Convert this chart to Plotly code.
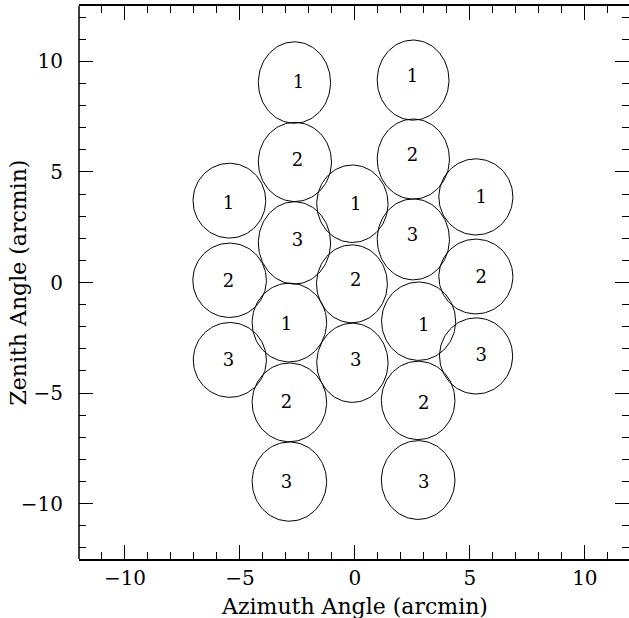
import numpy as np
import plotly.graph_objects as go

# Beam ellipses: centre (arcmin) and semi-axes (arcmin)
beam_cx = [-2.63, -2.61, -2.63, -2.85, -2.85, -2.85,
           2.53, 2.54, 2.54, 2.77, 2.75, 2.75,
           -5.46, -5.45, -5.44,
           -0.11, -0.13, -0.11,
           5.26, 5.26, 5.27]
beam_cy = [9.04, 5.45, 1.79, -1.81, -5.42, -9.00,
           9.15, 5.58, 1.95, -1.75, -5.33, -8.93,
           3.70, 0.10, -3.50,
           3.56, -0.06, -3.63,
           3.87, 0.27, -3.32]
beam_rx = [1.57, 1.59, 1.57, 1.62, 1.62, 1.62,
           1.56, 1.57, 1.57, 1.61, 1.60, 1.60,
           1.58, 1.60, 1.59,
           1.55, 1.54, 1.55,
           1.61, 1.61, 1.59]
beam_ry = [1.84, 1.79, 1.86, 1.78, 1.78, 1.79,
           1.81, 1.81, 1.83, 1.77, 1.77, 1.78,
           1.69, 1.68, 1.69,
           1.75, 1.76, 1.79,
           1.72, 1.69, 1.72]

# Labels
label_text = ["1", "2", "3", "1", "2", "3",
              "1", "2", "3", "1", "2", "3",
              "1", "2", "3",
              "1", "2", "3",
              "1", "2", "3"]
label_x = [-2.46, -2.50, -2.50, -2.98, -2.98, -2.98,
           2.50, 2.50, 2.50, 2.99, 2.99, 2.99,
           -5.50, -5.50, -5.50,
           0.03, 0.03, 0.03,
           5.49, 5.49, 5.49]
label_y = [9.00, 5.46, 1.85, -1.96, -5.49, -9.10,
           9.27, 5.69, 2.07, -1.99, -5.52, -9.10,
           3.54, 0.00, -3.57,
           3.50, 0.03, -3.58,
           3.81, 0.20, -3.35]

x_title = "Azimuth Angle (arcmin)"
y_title = "Zenith Angle (arcmin)"
x_range = [-12, 11.92]
y_range = [-12.5, 12.5]

FONT = "DejaVu Serif"

fig = go.Figure()
t = np.linspace(0, 2 * np.pi, 121)
for cx, cy, rx, ry in zip(beam_cx, beam_cy, beam_rx, beam_ry):
    fig.add_trace(go.Scatter(
        x=cx + rx * np.cos(t), y=cy + ry * np.sin(t),
        mode="lines", line=dict(color="black", width=1),
        hoverinfo="skip", showlegend=False))

fig.add_trace(go.Scatter(
    x=label_x, y=label_y, text=label_text, mode="text",
    textfont=dict(family=FONT, size=18, color="black"),
    textposition="middle center", showlegend=False, hoverinfo="skip"))

tick_common = dict(
    showgrid=False, zeroline=False,
    ticks="inside", ticklen=14, tickwidth=1, tickcolor="black",
    dtick=5, tick0=0,
    tickfont=dict(family=FONT, size=20, color="black"),
    minor=dict(dtick=1, ticks="inside", ticklen=7, tickwidth=1, tickcolor="black"),
)

fig.update_xaxes(range=x_range, showline=True, linecolor="black", linewidth=1.5,
                 mirror="ticks", **tick_common)
fig.update_yaxes(range=y_range, showline=False, mirror="ticks",
                 ticklabelstandoff=15, **tick_common)

# left frame edge (right edge falls just outside the picture)
fig.add_shape(type="line", xref="paper", yref="paper", x0=0, x1=0, y0=0, y1=1,
              line=dict(color="black", width=1.5))

fig.add_annotation(text=x_title, xref="paper", yref="paper", x=0.5, y=0,
                   xanchor="center", yanchor="middle", yshift=-47, showarrow=False,
                   font=dict(family=FONT, size=22, color="black"))
fig.add_annotation(text=y_title, xref="paper", yref="paper", x=0, y=0.5,
                   xanchor="center", yanchor="middle", xshift=-61, textangle=-90,
                   showarrow=False, font=dict(family=FONT, size=22, color="black"))

fig.update_layout(
    width=629, height=618,
    margin=dict(l=79, r=0, t=6, b=59),
    plot_bgcolor="white", paper_bgcolor="white",
    showlegend=False,
)

fig.write_html("out.html")
